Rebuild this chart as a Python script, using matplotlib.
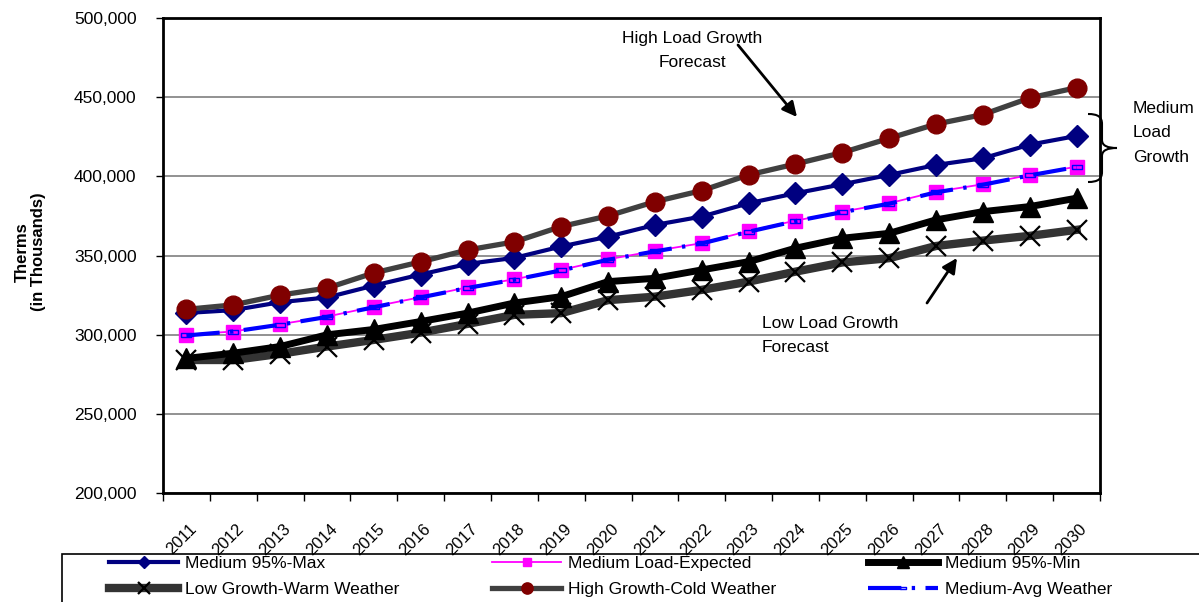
import numpy as np
import matplotlib
matplotlib.use("Agg")
import matplotlib.pyplot as plt
import matplotlib.transforms as mtransforms
from matplotlib.ticker import FuncFormatter, FixedLocator
from matplotlib.path import Path
from matplotlib.patches import PathPatch, Rectangle, FancyArrowPatch

plt.rcParams['font.family'] = ['Liberation Sans', 'DejaVu Sans']

years = [str(y) for y in range(2011, 2031)]

medium_max = [313700, 315500, 320500, 323500, 331000, 338000, 344700, 348500, 355700, 361900,
              369300, 374600, 383000, 389300, 395000, 400900, 407200, 411400, 420000, 425500]
medium_expected = [300000, 302000, 306600, 311400, 317700, 323700, 329900, 335000, 340900, 347600,
                   352900, 357800, 365500, 372000, 377700, 383000, 390300, 395000, 400900, 406100]
medium_min = [285000, 288300, 292500, 299900, 303300, 308300, 313600, 320000, 324000, 333500,
              335600, 340900, 346100, 354600, 360900, 364000, 372500, 377700, 380900, 386200]
low_warm = [284000, 284000, 287900, 292500, 296700, 301300, 306800, 312500, 313600, 321800,
            324000, 328300, 333500, 339800, 345600, 348300, 356000, 359400, 362400, 366200]
high_cold = [316000, 318800, 325000, 329400, 339000, 346000, 353500, 358600, 368300, 375000,
             384000, 391000, 400900, 407800, 415000, 424000, 433000, 439000, 449500, 456000]
medium_avg = [299500, 302000, 306300, 311200, 317300, 323500, 329500, 334700, 340600, 347300,
              352600, 357600, 365000, 371700, 377400, 382700, 389900, 394700, 400600, 405900]

W, H = 1199, 602
fig = plt.figure(figsize=(W / 100, H / 100), dpi=100)


def fx(px):
    return px / W


def fy(py):
    return 1 - py / H


ax = fig.add_axes([fx(163), fy(493), (1100 - 163) / W, (493 - 18) / H])
x = np.arange(len(years)) + 0.5

rect_marker = [(-1, -0.5), (1, -0.5), (1, 0.5), (-1, 0.5), (-1, -0.5)]

h_low, = ax.plot(x, low_warm, color='#333333', lw=6, marker='x', ms=14, mew=1.6,
                 mec='black', label='Low Growth-Warm Weather', zorder=3)
h_min, = ax.plot(x, medium_min, color='black', lw=5, marker='^', ms=15,
                 mfc='black', mec='black', label='Medium 95%-Min', zorder=4)
h_exp, = ax.plot(x, medium_expected, color='#FF00FF', lw=1.3, marker='s', ms=10.5,
                 mfc='#FF00FF', mec='#FF00FF', label='Medium Load-Expected', zorder=5)
h_avg, = ax.plot(x, medium_avg, color='#0000FF', lw=3, linestyle=(0, (8, 2.5, 0.8, 2.5)),
                 marker=rect_marker, ms=7, mfc='none', mec='#0000FF', mew=1,
                 label='Medium-Avg Weather', zorder=6)
h_max, = ax.plot(x, medium_max, color='#000080', lw=3, marker='D', ms=11,
                 mfc='#000080', mec='#000080', label='Medium 95%-Max', zorder=7)
h_high, = ax.plot(x, high_cold, color='#404040', lw=3.8, marker='o', ms=13.5,
                  mfc='#800000', mec='#800000', label='High Growth-Cold Weather', zorder=8)

ax.set_xlim(0, len(years))
ax.set_ylim(200000, 500000)
ax.set_yticks(np.arange(200000, 500001, 50000))
ax.yaxis.set_major_formatter(FuncFormatter(lambda v, p: f'{int(v):,}'))
ax.tick_params(axis='y', direction='out', length=5, width=1, pad=14, labelsize=12.5)
ax.yaxis.grid(True, color='#7f7f7f', lw=1.2)
ax.set_axisbelow(True)

ax.set_xticks(x)
ax.set_xticklabels(years, rotation=45, ha='right', va='center', rotation_mode='anchor',
                   fontsize=12)
ax.tick_params(axis='x', which='major', length=0, pad=24)
shift = mtransforms.ScaledTranslation(8 / 100, 0, fig.dpi_scale_trans)
for lbl in ax.get_xticklabels():
    lbl.set_transform(lbl.get_transform() + shift)
ax.xaxis.set_minor_locator(FixedLocator(np.arange(0, len(years) + 1)))
ax.tick_params(axis='x', which='minor', direction='out', length=6, width=1)

for s in ax.spines.values():
    s.set_color('black')
    s.set_linewidth(2)

fig.text(fx(30.5), fy(252), 'Therms\n(in Thousands)', rotation=90, ha='center', va='center',
         fontsize=12, fontweight='bold', multialignment='center', linespacing=1.1)

# Callout texts
fig.text(fx(692), fy(43), 'High Load Growth', ha='center', va='baseline', fontsize=12.5)
fig.text(fx(692), fy(67), 'Forecast', ha='center', va='baseline', fontsize=12.5)
fig.text(fx(762), fy(328), 'Low Load Growth', ha='left', va='baseline', fontsize=12.5)
fig.text(fx(762), fy(352), 'Forecast', ha='left', va='baseline', fontsize=12.5)
fig.text(fx(1133), fy(113), 'Medium', ha='left', va='baseline', fontsize=12.5)
fig.text(fx(1133), fy(137), 'Load', ha='left', va='baseline', fontsize=12.5)
fig.text(fx(1133), fy(162), 'Growth', ha='left', va='baseline', fontsize=12.5)

arrow_kw = dict(arrowstyle='-|>', color='black', lw=2, mutation_scale=22, shrinkA=0, shrinkB=0)
fig.add_artist(FancyArrowPatch((fx(738), fy(45)), (fx(797), fy(117)),
                               transform=fig.transFigure, **arrow_kw))
fig.add_artist(FancyArrowPatch((fx(927), fy(303)), (fx(957), fy(258)),
                               transform=fig.transFigure, **arrow_kw))

# Curly brace next to the medium band
pts = [(1088, 114), (1098, 114), (1102, 117), (1102, 124),
       (1102, 140),
       (1102, 146), (1108, 148), (1117, 148),
       (1108, 148), (1102, 150), (1102, 156),
       (1102, 172),
       (1102, 179), (1098, 182), (1088, 182)]
codes = [Path.MOVETO, Path.CURVE4, Path.CURVE4, Path.CURVE4,
         Path.LINETO,
         Path.CURVE4, Path.CURVE4, Path.CURVE4,
         Path.CURVE4, Path.CURVE4, Path.CURVE4,
         Path.LINETO,
         Path.CURVE4, Path.CURVE4, Path.CURVE4]
brace = Path([(fx(a), fy(b)) for a, b in pts], codes)
fig.add_artist(PathPatch(brace, transform=fig.transFigure, fill=False, lw=1.5, color='black'))

# Legend box
fig.add_artist(Rectangle((fx(62), fy(620)), fx(1220) - fx(62), fy(554) - fy(620),
                         transform=fig.transFigure, fill=False, lw=1.2, ec='black'))
handles = [h_max, h_low, h_exp, h_high, h_min, h_avg]
fig.legend(handles, [h.get_label() for h in handles], loc='upper left',
           bbox_to_anchor=(fx(109), fy(556)), ncol=3, frameon=False, fontsize=12.5,
           handlelength=4.0, handletextpad=0.4, columnspacing=5.3, labelspacing=0.6,
           borderpad=0, borderaxespad=0, markerscale=0.6, numpoints=1)

fig.savefig('out.png', dpi=100)
